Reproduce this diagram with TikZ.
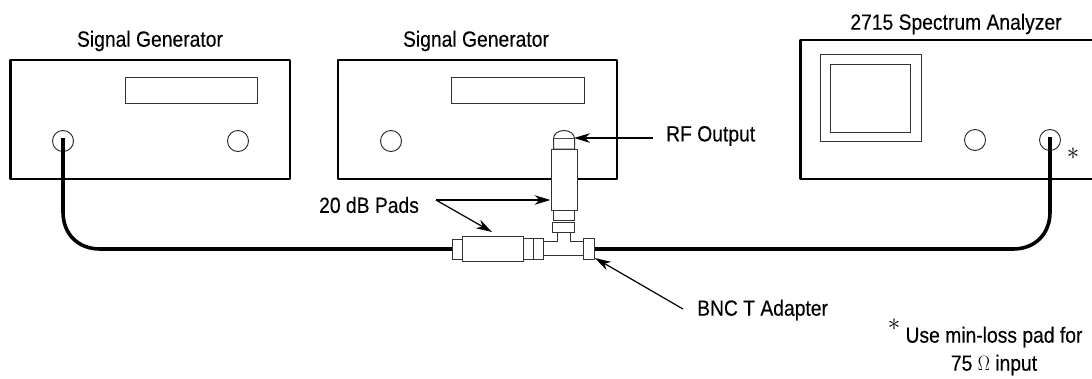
\documentclass[tikz,border=0pt]{standalone}
\usepackage{fontspec}
\setmainfont[FakeBold=0.25]{Liberation Sans}
\usetikzlibrary{arrows.meta}
\tikzset{
 panel/.style={draw=black,line width=2.4pt,fill=white,line join=round},
 thin part/.style={draw=black!80,line width=1pt,fill=white},
 knob/.style={draw=black!85,line width=0.9pt,fill=white,circle,minimum size=21pt,inner sep=0pt},
 cable/.style={draw=black,line width=3.6pt},
 pointer/.style={draw=black,line width=1.2pt,-{Stealth[length=16pt,width=9.5pt,inset=5pt]}},
 label/.style={font=\fontsize{22}{26}\selectfont,text=black,inner sep=0pt,xscale=0.877},
 star/.style={font=\fontsize{26}{26}\selectfont,text=black,inner sep=0pt}
}
\begin{document}
\begin{tikzpicture}[x=1pt,y=-1pt]
\useasboundingbox (0,0) rectangle (1092,378);
\fill[white] (0,0) rectangle (1092,378);
% panels
\draw[panel] (10.5,60) rectangle (290,179);
\draw[panel] (338,60) rectangle (617,179);
\draw[panel] (1095,40) -- (800.5,40) -- (800.5,179) -- (1095,179);
\draw[thin part] (125.5,77) rectangle (257,103);
\draw[thin part] (451,77) rectangle (584,103);
\draw[thin part] (820,54.5) rectangle (921,141);
\draw[thin part] (830.5,64) rectangle (910.5,132);
\node[knob] (k1) at (63,141) {};
\node[knob] (k2) at (238,141) {};
\node[knob] (k3) at (391,141) {};
\node[knob] (k4) at (975,140) {};
\node[knob] (k5) at (1050,140) {};
% cables
\coordinate (cl) at (452,249);
\coordinate (cr) at (594,249);
\draw[cable,shorten <=-3pt] (k1.center) -- (63,212) .. controls (63,234) and (78,249) .. (100,249) -- (cl);
\draw[cable,shorten <=-3pt] (k5.center) -- (1050,212) .. controls (1050,234) and (1035,249) .. (1013,249) -- (cr);
% T adapter
\draw[thin part] (543,241) -- (557,241) -- (557,232) -- (570,232) -- (570,241) -- (584,241) -- (584,255) -- (543,255) -- cycle;
\draw[thin part] (552,222) rectangle (574,232);
\draw[thin part] (583.5,238) rectangle (594,259);
\draw[thin part] (533,238) rectangle (543,259);
\draw[thin part] (523,238) rectangle (533,259);
\draw[thin part] (452,239) rectangle (462,259);
\node[thin part,draw,minimum width=61pt,minimum height=25pt,inner sep=0pt] (padh) at (492.5,248.5) {};
\draw[thin part] (553.5,210) rectangle (574.5,220);
\draw[thin part] (553.5,149) -- (553.5,138.5) arc[start angle=180,end angle=0,x radius=10.5,y radius=-8] -- (574.5,149) -- cycle;
\draw[draw=black!70,line width=1pt] (553.5,138.5) -- (574.5,138.5);
\node[thin part,draw,minimum width=26pt,minimum height=61pt,inner sep=0pt] (padv) at (564,179.5) {};
% labels
\node[label] (t1) at (150,41) {Signal Generator};
\node[label] (t2) at (476,41) {Signal Generator};
\node[label] (t3) at (956,24) {2715 Spectrum Analyzer};
\node[label,anchor=west] (rf) at (666,136) {RF Output};
\node[label,anchor=west] (pads) at (319,205) {20 dB Pads};
\node[label,anchor=west] (bnc) at (697,310) {BNC T Adapter};
\node[star] (ast) at (1073,154) {$\ast$};
\node[label] (n1) at (994,337) {Use min-loss pad for};
\node[label] (n2) at (994,365) {75 $\Omega$ input};
\node[star] (ast2) at (894,325) {$\ast$};
% pointers
\coordinate (pa) at (436,200);
\coordinate (prf) at (653,138);
\coordinate (pbnc) at (683,309);
\draw[pointer] (prf) -- (574,138);
\draw[pointer] (pa) -- (padv.west |- pa);
\draw[pointer] (pa) -- (492,232);
\draw[pointer] (pbnc) -- (595,258);
\end{tikzpicture}
\end{document}
